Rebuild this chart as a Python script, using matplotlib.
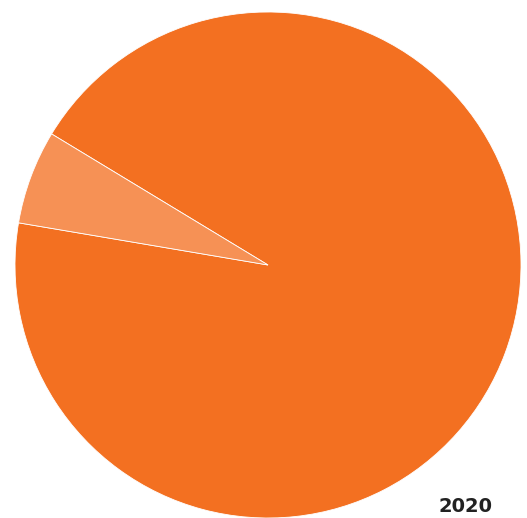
import matplotlib.pyplot as plt

# data
labels = ['Main', 'Other']
values = [94.0, 6.0]
colors = ['#F37021', '#F69155']
year_label = '2020'

fig = plt.figure(figsize=(5.27, 5.18), dpi=100)

# pie centered at (268, 265) px with radius ~253 px
r_px = 253
ax = fig.add_axes([(268 - r_px) / 527, (518 - 265 - r_px) / 518,
                   2 * r_px / 527, 2 * r_px / 518])
ax.pie(values, colors=colors, startangle=170.4, counterclock=True,
       radius=1.0, wedgeprops=dict(edgecolor='white', linewidth=0.6))
ax.set_xlim(-1, 1)
ax.set_ylim(-1, 1)
ax.set_aspect('equal')
ax.axis('off')

fig.text(465 / 527, 1 - 506 / 518, year_label, ha='center', va='center',
         fontsize=14, fontweight='bold', color='#222222')

fig.savefig('out.png', dpi=100)
